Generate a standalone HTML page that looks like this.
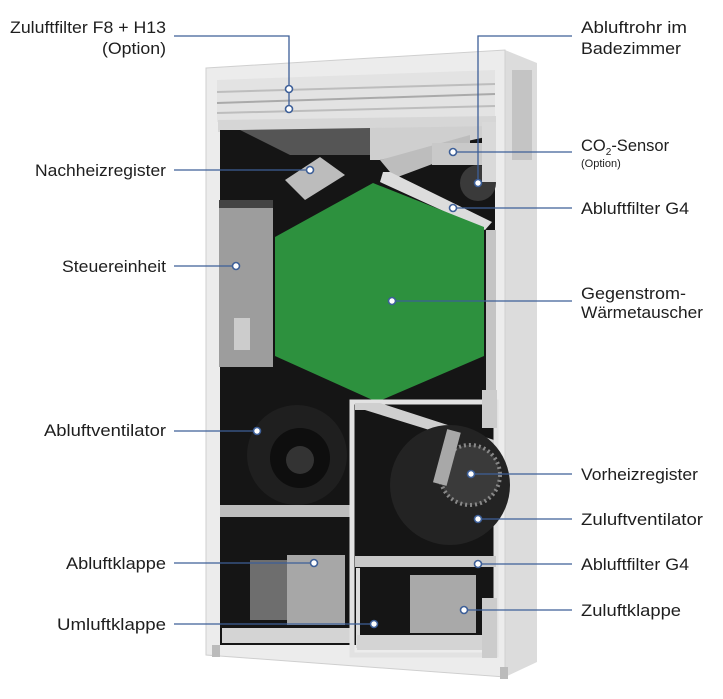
<!DOCTYPE html>
<html><head><meta charset="utf-8"><style>
html,body{margin:0;padding:0;background:#fff;}
svg{display:block;}
text{font-family:"Liberation Sans",sans-serif;font-size:16.5px;fill:#1e1e1e;}
.l{stroke:#3d5f98;stroke-width:1.3;fill:none;}
.d{fill:#fff;stroke:#3d5f98;stroke-width:1.6;}
</style></head><body>
<svg width="723" height="699" viewBox="0 0 723 699" xmlns="http://www.w3.org/2000/svg">
<polygon points="505,50 537,63 537,662 505,677" fill="#dcdcdc"/>
<rect x="512" y="70" width="20" height="90" fill="#c4c4c4"/>
<polygon points="206,68 505,50 505,677 206,655" fill="#ececec" stroke="#cfcfcf"/>
<rect x="212" y="645" width="8" height="12" fill="#bbb"/>
<rect x="500" y="667" width="8" height="12" fill="#bbb"/>
<polygon points="217,80 495,70 495,117 217,122" fill="#e3e3e3"/>
<line x1="217" y1="92" x2="495" y2="84" stroke="#bdbdbd" stroke-width="2"/>
<line x1="217" y1="103" x2="495" y2="94" stroke="#aaa" stroke-width="2"/>
<line x1="217" y1="113" x2="495" y2="106" stroke="#bdbdbd" stroke-width="2"/>
<polygon points="218,120 496,116 496,128 218,132" fill="#d6d6d6"/>
<rect x="220" y="130" width="275" height="515" fill="#151515"/>
<polygon points="240,130 370,128 370,155 290,155" fill="#555"/>
<polygon points="370,128 495,126 495,135 380,160 370,160" fill="#cfcfcf"/>
<polygon points="380,160 470,135 470,150 395,178" fill="#bdbdbd"/>
<polygon points="285,180 320,157 345,175 305,200" fill="#bcbcbc"/>
<rect x="432" y="143" width="55" height="22" fill="#c9c9c9"/>
<circle cx="478" cy="183" r="18" fill="#3a3a3a"/>
<rect x="482" y="122" width="14" height="60" fill="#d9d9d9"/>
<polygon points="383,172 390,172 492,222 485,230 380,182" fill="#dcdcdc"/>
<rect x="219" y="200" width="54" height="167" fill="#9d9d9d"/>
<rect x="219" y="200" width="54" height="8" fill="#444"/>
<rect x="234" y="318" width="16" height="32" fill="#ccc"/>
<rect x="486" y="230" width="10" height="160" fill="#c4c4c4"/>
<polygon points="373,183 484,227 484,356 377,402 275,356 275,237" fill="#2d913e"/>
<circle cx="297" cy="455" r="50" fill="#1f1f1f"/>
<circle cx="300" cy="458" r="30" fill="#0e0e0e"/>
<circle cx="300" cy="460" r="14" fill="#333"/>
<rect x="220" y="505" width="130" height="12" fill="#bdbdbd"/>
<rect x="250" y="560" width="37" height="60" fill="#6e6e6e"/>
<rect x="287" y="555" width="58" height="70" fill="#a7a7a7"/>
<rect x="222" y="628" width="130" height="15" fill="#d4d4d4"/>
<rect x="352" y="402" width="144" height="253" fill="none" stroke="#e2e2e2" stroke-width="5"/>
<polygon points="355,403 380,403 494,440 494,450 365,410 355,410" fill="#cfcfcf"/>
<circle cx="450" cy="485" r="60" fill="#232323"/>
<circle cx="470" cy="475" r="30" fill="#3a3a3a" stroke="#888" stroke-width="4" stroke-dasharray="2 3"/>
<rect x="440" y="430" width="14" height="55" fill="#a8a8a8" transform="rotate(15 447 457)"/>
<rect x="355" y="556" width="141" height="11" fill="#c8c8c8"/>
<rect x="356" y="568" width="4" height="80" fill="#ddd"/>
<rect x="410" y="575" width="66" height="58" fill="#a9a9a9"/>
<rect x="357" y="635" width="137" height="15" fill="#d4d4d4"/>
<rect x="482" y="598" width="15" height="60" fill="#ccc"/>
<rect x="482" y="390" width="15" height="38" fill="#ccc"/>
<polyline class="l" points="174,36 289,36 289,109"/>
<circle class="d" cx="289" cy="89" r="3.5"/><circle class="d" cx="289" cy="109" r="3.5"/>
<line class="l" x1="174" y1="170" x2="310" y2="170"/><circle class="d" cx="310" cy="170" r="3.5"/>
<line class="l" x1="174" y1="266" x2="236" y2="266"/><circle class="d" cx="236" cy="266" r="3.5"/>
<line class="l" x1="174" y1="431" x2="257" y2="431"/><circle class="d" cx="257" cy="431" r="3.5"/>
<line class="l" x1="174" y1="563" x2="314" y2="563"/><circle class="d" cx="314" cy="563" r="3.5"/>
<line class="l" x1="174" y1="624" x2="374" y2="624"/><circle class="d" cx="374" cy="624" r="3.5"/>
<polyline class="l" points="572,36 478,36 478,183"/><circle class="d" cx="478" cy="183" r="3.5"/>
<line class="l" x1="453" y1="152" x2="572" y2="152"/><circle class="d" cx="453" cy="152" r="3.5"/>
<line class="l" x1="453" y1="208" x2="572" y2="208"/><circle class="d" cx="453" cy="208" r="3.5"/>
<line class="l" x1="392" y1="301" x2="572" y2="301"/><circle class="d" cx="392" cy="301" r="3.5"/>
<line class="l" x1="471" y1="474" x2="572" y2="474"/><circle class="d" cx="471" cy="474" r="3.5"/>
<line class="l" x1="478" y1="519" x2="572" y2="519"/><circle class="d" cx="478" cy="519" r="3.5"/>
<line class="l" x1="478" y1="564" x2="572" y2="564"/><circle class="d" cx="478" cy="564" r="3.5"/>
<line class="l" x1="464" y1="610" x2="572" y2="610"/><circle class="d" cx="464" cy="610" r="3.5"/>
<g lengthAdjust="spacingAndGlyphs">
<text x="166" y="33" text-anchor="end" textLength="156" lengthAdjust="spacingAndGlyphs">Zuluftfilter F8 + H13</text>
<text x="166" y="54" text-anchor="end" textLength="64" lengthAdjust="spacingAndGlyphs">(Option)</text>
<text x="166" y="176" text-anchor="end" textLength="131" lengthAdjust="spacingAndGlyphs">Nachheizregister</text>
<text x="166" y="272" text-anchor="end" textLength="104" lengthAdjust="spacingAndGlyphs">Steuereinheit</text>
<text x="166" y="436" text-anchor="end" textLength="122" lengthAdjust="spacingAndGlyphs">Abluftventilator</text>
<text x="166" y="569" text-anchor="end" textLength="100" lengthAdjust="spacingAndGlyphs">Abluftklappe</text>
<text x="166" y="630" text-anchor="end" textLength="109" lengthAdjust="spacingAndGlyphs">Umluftklappe</text>
<text x="581" y="33" textLength="106" lengthAdjust="spacingAndGlyphs">Abluftrohr im</text>
<text x="581" y="54" textLength="100" lengthAdjust="spacingAndGlyphs">Badezimmer</text>
<text x="581" y="151">CO<tspan font-size="10" dy="4">2</tspan><tspan dy="-4">-Sensor</tspan></text>
<text x="581" y="167" style="font-size:11px">(Option)</text>
<text x="581" y="214" textLength="108" lengthAdjust="spacingAndGlyphs">Abluftfilter G4</text>
<text x="581" y="299" textLength="105" lengthAdjust="spacingAndGlyphs">Gegenstrom-</text>
<text x="581" y="318" textLength="122" lengthAdjust="spacingAndGlyphs">Wärmetauscher</text>
<text x="581" y="480" textLength="117" lengthAdjust="spacingAndGlyphs">Vorheizregister</text>
<text x="581" y="525" textLength="122" lengthAdjust="spacingAndGlyphs">Zuluftventilator</text>
<text x="581" y="570" textLength="108" lengthAdjust="spacingAndGlyphs">Abluftfilter G4</text>
<text x="581" y="616" textLength="100" lengthAdjust="spacingAndGlyphs">Zuluftklappe</text>
</g>
</svg>
</body></html>
